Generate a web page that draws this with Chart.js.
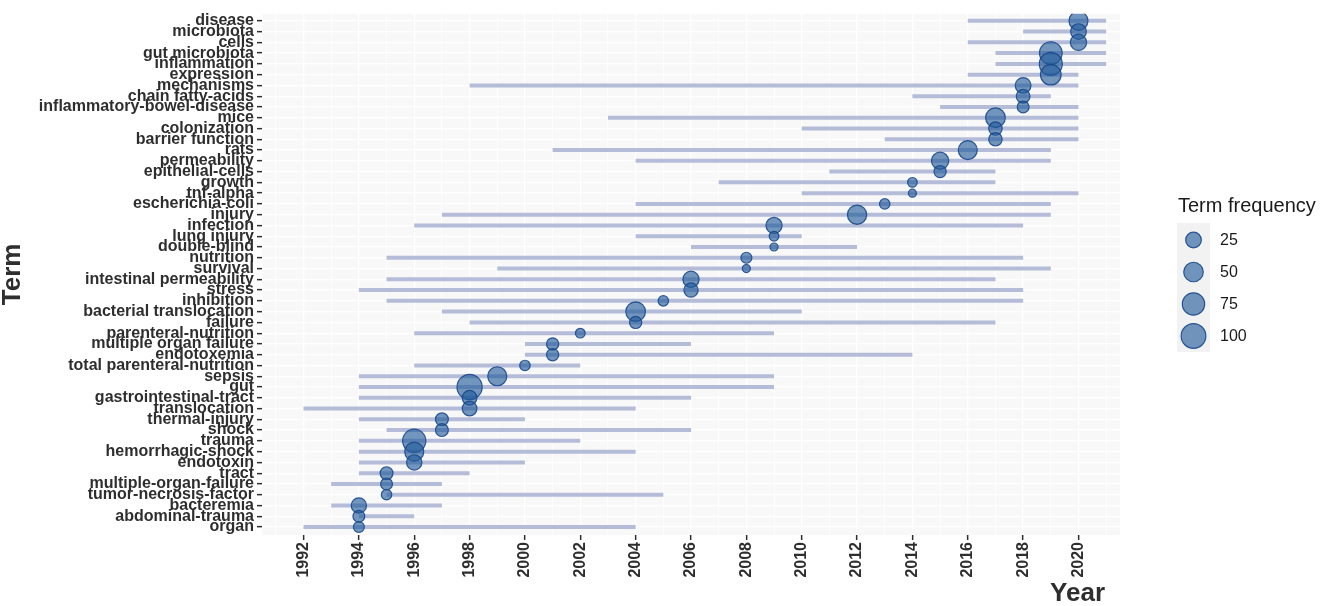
<!DOCTYPE html>
<html>
<head>
<meta charset="utf-8">
<title>Trend topics</title>
<script src="https://cdn.jsdelivr.net/npm/chart.js@4.4.1/dist/chart.umd.min.js"></script>
<style>
  html, body { margin: 0; padding: 0; background: #fff; }
  #wrap { width: 1325px; height: 606px; position: relative; }
</style>
</head>
<body>
<div id="wrap"><canvas id="trendChart"></canvas></div>
<script>
// Terms, top to bottom
const terms = [
  'disease', 'microbiota', 'cells', 'gut microbiota', 'inflammation', 'expression',
  'mechanisms', 'chain fatty-acids', 'inflammatory-bowel-disease', 'mice', 'colonization',
  'barrier function', 'rats', 'permeability', 'epithelial-cells', 'growth', 'tnf-alpha',
  'escherichia-coli', 'injury', 'infection', 'lung injury', 'double-blind', 'nutrition',
  'survival', 'intestinal permeability', 'stress', 'inhibition', 'bacterial translocation',
  'failure', 'parenteral-nutrition', 'multiple organ failure', 'endotoxemia',
  'total parenteral-nutrition', 'sepsis', 'gut', 'gastrointestinal-tract', 'translocation',
  'thermal-injury', 'shock', 'trauma', 'hemorrhagic-shock', 'endotoxin', 'tract',
  'multiple-organ-failure', 'tumor-necrosis-factor', 'bacteremia', 'abdominal-trauma', 'organ'
];

// first year, last year and median year of each term
const startYear = [
  2016, 2018, 2016, 2017, 2017, 2016, 1998, 2014, 2015, 2003, 2010, 2013, 2001, 2004, 2011, 2007,
  2010, 2004, 1997, 1996, 2004, 2006, 1995, 1999, 1995, 1994, 1995, 1997, 1998, 1996, 2000, 2000,
  1996, 1994, 1994, 1994, 1992, 1994, 1995, 1994, 1994, 1994, 1994, 1993, 1995, 1993, 1994, 1992
];
const endYear = [
  2021, 2021, 2021, 2021, 2021, 2020, 2020, 2019, 2020, 2020, 2020, 2020, 2019, 2019, 2017, 2017,
  2020, 2019, 2019, 2018, 2010, 2012, 2018, 2019, 2017, 2018, 2018, 2010, 2017, 2009, 2006, 2014,
  2002, 2009, 2009, 2006, 2004, 2000, 2006, 2002, 2004, 2000, 1998, 1997, 2005, 1997, 1996, 2004
];
const medianYear = [
  2020, 2020, 2020, 2019, 2019, 2019, 2018, 2018, 2018, 2017, 2017, 2017, 2016, 2015, 2015, 2014,
  2014, 2013, 2012, 2009, 2009, 2009, 2008, 2008, 2006, 2006, 2005, 2004, 2004, 2002, 2001, 2001,
  2000, 1999, 1998, 1998, 1998, 1997, 1997, 1996, 1996, 1996, 1995, 1995, 1995, 1994, 1994, 1994
];
const termFreq = [
  46, 25, 28, 78, 81, 59, 25, 16, 10, 51, 15, 15, 46, 34, 11, 6,
  5, 7, 48, 27, 6, 5, 8, 5, 28, 18, 7, 51, 11, 6, 11, 11,
  7, 46, 105, 20, 20, 13, 13, 84, 46, 23, 13, 10, 7, 23, 10, 8
];

const yearTicks = [1992, 1994, 1996, 1998, 2000, 2002, 2004, 2006, 2008, 2010, 2012, 2014, 2016, 2018, 2020];
const legendFreqs = [25, 50, 75, 100];

const FONT = "'Liberation Sans', Arial, Helvetica, sans-serif";
const TEXT = '#2e2e2e';
const BUBBLE_FILL = 'rgba(31, 88, 153, 0.62)';
const BUBBLE_LINE = 'rgba(24, 72, 140, 0.9)';

// bubble radius in px from term frequency
function radiusFor(v) {
  const d = 9 + 1.72 * Math.sqrt(Math.max(v - 5, 0));
  return d / 2 - 0.5;
}

Chart.defaults.font.family = FONT;

const lineSets = terms.map((t, i) => ({
  type: 'line',
  label: t,
  data: [{ x: startYear[i], y: i }, { x: endYear[i], y: i }],
  borderColor: '#b4bcd8',
  borderWidth: 4,
  borderCapStyle: 'butt',
  pointRadius: 0,
  order: 2
}));

const bubbleSet = {
  type: 'bubble',
  label: 'Term frequency',
  data: terms.map((t, i) => ({ x: medianYear[i], y: i, r: radiusFor(termFreq[i]) })),
  backgroundColor: BUBBLE_FILL,
  borderColor: BUBBLE_LINE,
  borderWidth: 1.2,
  order: 1
};

// panel background, x title and size legend
const decor = {
  id: 'decor',
  beforeDraw(chart) {
    const { ctx, chartArea: a } = chart;
    ctx.save();
    ctx.fillStyle = '#f8f8f8';
    ctx.fillRect(a.left, a.top, a.right - a.left, a.bottom - a.top);
    ctx.restore();
  },
  afterDraw(chart) {
    const ctx = chart.ctx;
    ctx.save();
    ctx.fillStyle = TEXT;
    ctx.font = 'bold 26px ' + FONT;
    ctx.textAlign = 'right';
    ctx.textBaseline = 'alphabetic';
    ctx.fillText('Year', 1105, 601);

    ctx.fillStyle = '#1a1a1a';
    ctx.font = '20px ' + FONT;
    ctx.textAlign = 'left';
    ctx.fillText('Term frequency', 1178, 212);

    ctx.fillStyle = '#f2f2f2';
    ctx.fillRect(1177, 223, 33, 129);

    const rowY = [240, 272, 304, 336];
    legendFreqs.forEach((v, k) => {
      ctx.beginPath();
      ctx.arc(1193.5, rowY[k], radiusFor(v), 0, Math.PI * 2);
      ctx.fillStyle = BUBBLE_FILL;
      ctx.fill();
      ctx.lineWidth = 1.2;
      ctx.strokeStyle = BUBBLE_LINE;
      ctx.stroke();
      ctx.fillStyle = '#1a1a1a';
      ctx.font = '16px ' + FONT;
      ctx.textBaseline = 'middle';
      ctx.fillText(String(v), 1220, rowY[k] + 1);
    });
    ctx.restore();
  }
};

new Chart(document.getElementById('trendChart'), {
  type: 'bubble',
  data: { datasets: [...lineSets, bubbleSet] },
  options: {
    responsive: true,
    maintainAspectRatio: false,
    animation: false,
    layout: { padding: { top: 12, right: 205, left: 0, bottom: 0 } },
    plugins: {
      legend: { display: false },
      tooltip: { enabled: false }
    },
    scales: {
      x: {
        type: 'linear',
        min: 1990.5,
        max: 2021.5,
        afterBuildTicks(scale) {
          const minor = [yearTicks[0] - 1, ...yearTicks.map(y => y + 1)];
          scale.ticks = [...yearTicks, ...minor].sort((a, b) => a - b).map(v => ({ value: v }));
        },
        afterFit(scale) { scale.height = 71; },
        border: { display: false },
        grid: {
          color: '#ffffff',
          lineWidth: c => yearTicks.includes(c.tick && c.tick.value) ? 1.3 : 0.7,
          tickColor: c => yearTicks.includes(c.tick && c.tick.value) ? TEXT : 'rgba(0,0,0,0)',
          tickLength: 5,
          tickWidth: 1.5
        },
        ticks: {
          autoSkip: false,
          minRotation: 90,
          maxRotation: 90,
          padding: 2,
          color: TEXT,
          font: { size: 16, weight: 'bold' },
          callback: v => yearTicks.includes(v) ? String(v) : ''
        },
        title: { display: false }
      },
      y: {
        type: 'linear',
        reverse: true,
        min: -0.65,
        max: terms.length - 1 + 0.74,
        afterBuildTicks(scale) {
          scale.ticks = terms.map((t, i) => ({ value: i }));
        },
        afterFit(scale) { scale.width = 262; },
        border: { display: false },
        grid: {
          color: '#ffffff',
          lineWidth: 1.3,
          tickColor: TEXT,
          tickLength: 5,
          tickWidth: 1.5
        },
        ticks: {
          autoSkip: false,
          padding: 3,
          color: TEXT,
          font: { size: 16, weight: 'bold' },
          callback: v => terms[v]
        },
        title: {
          display: true,
          text: 'Term',
          color: TEXT,
          font: { size: 26, weight: 'bold', lineHeight: 1.0 },
          padding: { top: 0, bottom: 0 }
        }
      }
    }
  },
  plugins: [decor]
});
</script>
</body>
</html>
